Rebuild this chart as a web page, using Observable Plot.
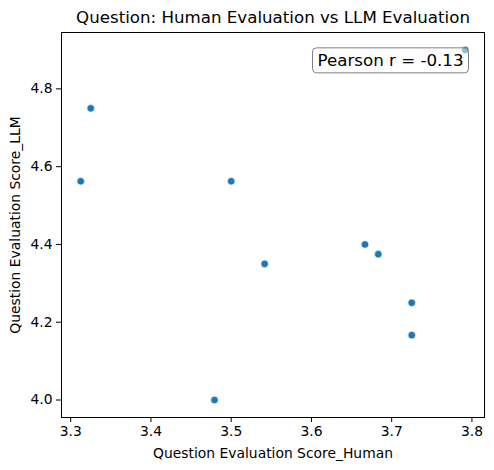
<!DOCTYPE html>
<html>
<head>
<meta charset="utf-8">
<script src="https://cdn.jsdelivr.net/npm/d3@7"></script>
<script src="https://cdn.jsdelivr.net/npm/@observablehq/plot@0.6"></script>
<style>
  html, body { margin: 0; padding: 0; background: #fff; }
  svg { font-family: "DejaVu Sans", sans-serif; }
</style>
</head>
<body>
<script>
const humanScores = [3.3125, 3.325, 3.5, 3.5417, 3.4792, 3.6667, 3.6833, 3.725, 3.725, 3.7917];
const llmScores   = [4.5625, 4.75, 4.5625, 4.35, 4.0, 4.4, 4.375, 4.25, 4.1667, 4.9];
const xTicks = [3.3, 3.4, 3.5, 3.6, 3.7, 3.8];
const yTicks = [4.0, 4.2, 4.4, 4.6, 4.8];
const titleText = "Question: Human Evaluation vs LLM Evaluation";
const xLabel = "Question Evaluation Score_Human";
const yLabel = "Question Evaluation Score_LLM";
const annotation = "Pearson r = -0.13";

const data = humanScores.map((h, i) => ({human: h, llm: llmScores[i]}));

const xMin = d3.min(humanScores), xMax = d3.max(humanScores);
const yMin = d3.min(llmScores), yMax = d3.max(llmScores);
const xPad = (xMax - xMin) * 0.05, yPad = (yMax - yMin) * 0.05;

const chart = Plot.plot({
  width: 494,
  height: 470,
  marginLeft: 61,
  marginRight: 10,
  marginTop: 32,
  marginBottom: 53,
  style: {fontFamily: "DejaVu Sans, sans-serif", fontSize: "13.89px", color: "#000", background: "#fff"},
  x: {domain: [xMin - xPad, xMax + xPad]},
  y: {domain: [yMin - yPad, yMax + yPad]},
  marks: [
    Plot.axisX({ticks: xTicks, tickFormat: d3.format(".1f"), tickSize: 5, tickPadding: 4, label: null, fontSize: 13.89}),
    Plot.axisY({ticks: yTicks, tickFormat: d3.format(".1f"), tickSize: 5, tickPadding: 4, label: null, fontSize: 13.89}),
    Plot.dot(data, {x: "human", y: "llm", r: 3.8, fill: "#1f77b4", stroke: "#fff", strokeWidth: 0.7}),
    Plot.frame({stroke: "#000", strokeWidth: 1}),
    Plot.text([titleText], {frameAnchor: "top", dy: -15, fontSize: 16.67, fill: "#000", lineAnchor: "middle"}),
    Plot.text([xLabel], {frameAnchor: "bottom", dy: 36, fontSize: 13.89, fill: "#000", lineAnchor: "middle"}),
    Plot.text([yLabel], {frameAnchor: "left", dx: -46, rotate: -90, fontSize: 13.89, fill: "#000", textAnchor: "middle", lineAnchor: "middle"}),
    Plot.text([annotation], {frameAnchor: "top-right", dx: -21, dy: 28, fontSize: 16.67, fill: "#000", textAnchor: "end", lineAnchor: "middle", className: "pearson"})
  ]
});
document.body.append(chart);

// rounded box behind the annotation
const txt = chart.querySelector(".pearson text");
if (txt) {
  const bb = txt.getBBox();
  const padX = 5, padY = 3.5;
  const g = txt.parentNode;
  const rect = document.createElementNS("http://www.w3.org/2000/svg", "rect");
  rect.setAttribute("x", bb.x - padX);
  rect.setAttribute("y", bb.y - padY + 0.5);
  rect.setAttribute("width", bb.width + 2 * padX);
  rect.setAttribute("height", bb.height + 2 * padY - 1);
  rect.setAttribute("rx", 4);
  rect.setAttribute("fill", "#fff");
  rect.setAttribute("fill-opacity", 0.5);
  rect.setAttribute("stroke", "#808080");
  rect.setAttribute("stroke-width", 1);
  const tr = txt.getAttribute("transform");
  if (tr) rect.setAttribute("transform", tr);
  g.insertBefore(rect, txt);
}
</script>
</body>
</html>
